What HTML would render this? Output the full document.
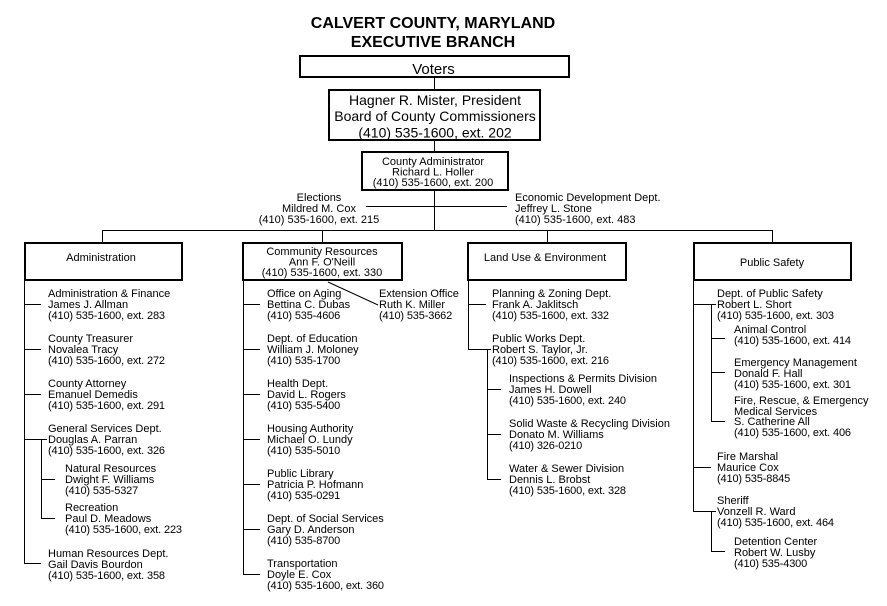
<!DOCTYPE html>
<html>
<head>
<meta charset="utf-8">
<style>
  html, body { margin: 0; padding: 0; background: #fff; }
  svg { display: block; }
  text { font-family: "Liberation Sans", Arial, sans-serif; fill: #000; }
  .s { font-size: 11px; }
  .m { text-anchor: middle; }
  .p { letter-spacing: -0.15px; }
</style>
</head>
<body>
<svg width="887" height="606" viewBox="0 0 887 606" xmlns="http://www.w3.org/2000/svg">
  <rect x="0" y="0" width="887" height="606" fill="#fff"/>

  <!-- Title -->
  <text x="433" y="28" class="m" style="font-size:16px;font-weight:bold">CALVERT COUNTY, MARYLAND</text>
  <text x="433" y="47" class="m" style="font-size:16px;font-weight:bold">EXECUTIVE BRANCH</text>

  <!-- Boxes -->
  <g fill="none" stroke="#000" stroke-width="2" shape-rendering="crispEdges">
    <rect x="300" y="56" width="269" height="21"/>
    <rect x="329" y="90" width="211" height="50"/>
    <rect x="362" y="152" width="146" height="38"/>
    <rect x="25" y="243" width="157" height="37"/>
    <rect x="243" y="243" width="159" height="37"/>
    <rect x="468" y="243" width="158" height="37"/>
    <rect x="694" y="243" width="157" height="37"/>
  </g>

  <!-- Connectors -->
  <g fill="none" stroke="#000" stroke-width="1" shape-rendering="crispEdges">
    <path d="M434.5 78 V89 M434.5 141 V151 M434.5 191 V230"/>
    <path d="M366 206.5 H507"/>
    <path d="M102 230.5 H773"/>
    <path d="M102.5 230 V242 M322.5 230 V242 M547.5 230 V242 M772.5 230 V242"/>

    <!-- Administration column -->
    <path d="M24.5 281 V564"/>
    <path d="M24 304.5 H41 M24 349.5 H41 M24 394.5 H41 M24 439.5 H47 M24 563.5 H41"/>
    <path d="M41.5 439 V519"/>
    <path d="M41 479.5 H55 M41 518.5 H55"/>

    <!-- Community column -->
    <path d="M243.5 281 V575"/>
    <path d="M243 304.5 H260 M243 349.5 H260 M243 394.5 H260 M243 439.5 H260 M243 484.5 H260 M243 529.5 H260 M243 574.5 H260"/>

    <!-- Land Use column -->
    <path d="M468.5 281 V350"/>
    <path d="M468 304.5 H486 M468 349.5 H491"/>
    <path d="M487.5 349 V480"/>
    <path d="M487 389.5 H501 M487 434.5 H501 M487 479.5 H501"/>

    <!-- Public Safety column -->
    <path d="M693.5 281 V512"/>
    <path d="M693 304.5 H716 M693 467.5 H711 M693 511.5 H716"/>
    <path d="M711.5 304 V422"/>
    <path d="M711 338.5 H725 M711 372.5 H725 M711 421.5 H725"/>
    <path d="M711.5 511 V552"/>
    <path d="M711 551.5 H725"/>
  </g>
  <path d="M328 282 L378 305" stroke="#000" stroke-width="1" fill="none"/>

  <!-- Top box texts -->
  <text x="433.5" y="74" class="m" style="font-size:15px">Voters</text>
  <text x="435" y="105" class="m" style="font-size:14px">Hagner R. Mister, President</text>
  <text x="435" y="121" class="m" style="font-size:14px">Board of County Commissioners</text>
  <text x="435" y="137.5" class="m" style="font-size:14px">(410) 535-1600, ext. 202</text>

  <text x="433" y="165" class="s m">County Administrator</text>
  <text x="433" y="175.5" class="s m">Richard L. Holler</text>
  <text x="433" y="186" class="s m">(410) 535-1600, ext. 200</text>

  <text x="319" y="201" class="s m">Elections</text>
  <text x="319" y="212" class="s m">Mildred M. Cox</text>
  <text x="319" y="223" class="s m">(410) 535-1600, ext. 215</text>

  <text x="515" y="201" class="s">Economic Development Dept.</text>
  <text x="515" y="212" class="s">Jeffrey L. Stone</text>
  <text x="515" y="223" class="s">(410) 535-1600, ext. 483</text>

  <!-- Column headers -->
  <text x="101" y="261" class="s m">Administration</text>
  <text x="322" y="255" class="s m">Community Resources</text>
  <text x="322" y="265.5" class="s m">Ann F. O'Neill</text>
  <text x="322" y="276" class="s m">(410) 535-1600, ext. 330</text>
  <text x="545" y="261" class="s m">Land Use &amp; Environment</text>
  <text x="772" y="266" class="s m">Public Safety</text>

  <!-- Administration items -->
  <text x="48" y="297" class="s">Administration &amp; Finance</text>
  <text x="48" y="308" class="s">James J. Allman</text>
  <text x="48" y="319" class="s p">(410) 535-1600, ext. 283</text>

  <text x="48" y="342" class="s">County Treasurer</text>
  <text x="48" y="353" class="s">Novalea Tracy</text>
  <text x="48" y="364" class="s p">(410) 535-1600, ext. 272</text>

  <text x="48" y="387" class="s">County Attorney</text>
  <text x="48" y="398" class="s">Emanuel Demedis</text>
  <text x="48" y="409" class="s p">(410) 535-1600, ext. 291</text>

  <text x="48" y="432" class="s">General Services Dept.</text>
  <text x="48" y="443" class="s">Douglas A. Parran</text>
  <text x="48" y="454" class="s p">(410) 535-1600, ext. 326</text>

  <text x="65" y="472" class="s">Natural Resources</text>
  <text x="65" y="483" class="s">Dwight F. Williams</text>
  <text x="65" y="494" class="s p">(410) 535-5327</text>

  <text x="65" y="511" class="s">Recreation</text>
  <text x="65" y="522" class="s">Paul D. Meadows</text>
  <text x="65" y="533" class="s p">(410) 535-1600, ext. 223</text>

  <text x="48" y="557" class="s">Human Resources Dept.</text>
  <text x="48" y="568" class="s">Gail Davis Bourdon</text>
  <text x="48" y="579" class="s p">(410) 535-1600, ext. 358</text>

  <!-- Community items -->
  <text x="267" y="297" class="s">Office on Aging</text>
  <text x="267" y="308" class="s">Bettina C. Dubas</text>
  <text x="267" y="319" class="s p">(410) 535-4606</text>

  <text x="379" y="297" class="s">Extension Office</text>
  <text x="379" y="308" class="s">Ruth K. Miller</text>
  <text x="379" y="319" class="s p">(410) 535-3662</text>

  <text x="267" y="342" class="s">Dept. of Education</text>
  <text x="267" y="353" class="s">William J. Moloney</text>
  <text x="267" y="364" class="s p">(410) 535-1700</text>

  <text x="267" y="387" class="s">Health Dept.</text>
  <text x="267" y="398" class="s">David L. Rogers</text>
  <text x="267" y="409" class="s p">(410) 535-5400</text>

  <text x="267" y="432" class="s">Housing Authority</text>
  <text x="267" y="443" class="s">Michael O. Lundy</text>
  <text x="267" y="454" class="s p">(410) 535-5010</text>

  <text x="267" y="477" class="s">Public Library</text>
  <text x="267" y="488" class="s">Patricia P. Hofmann</text>
  <text x="267" y="499" class="s p">(410) 535-0291</text>

  <text x="267" y="522" class="s">Dept. of Social Services</text>
  <text x="267" y="533" class="s">Gary D. Anderson</text>
  <text x="267" y="544" class="s p">(410) 535-8700</text>

  <text x="267" y="567" class="s">Transportation</text>
  <text x="267" y="578" class="s">Doyle E. Cox</text>
  <text x="267" y="589" class="s p">(410) 535-1600, ext. 360</text>

  <!-- Land Use items -->
  <text x="492" y="297" class="s">Planning &amp; Zoning Dept.</text>
  <text x="492" y="308" class="s">Frank A. Jaklitsch</text>
  <text x="492" y="319" class="s p">(410) 535-1600, ext. 332</text>

  <text x="492" y="342" class="s">Public Works Dept.</text>
  <text x="492" y="353" class="s">Robert S. Taylor, Jr.</text>
  <text x="492" y="364" class="s p">(410) 535-1600, ext. 216</text>

  <text x="509" y="382" class="s">Inspections &amp; Permits Division</text>
  <text x="509" y="393" class="s">James H. Dowell</text>
  <text x="509" y="404" class="s p">(410) 535-1600, ext. 240</text>

  <text x="509" y="427" class="s">Solid Waste &amp; Recycling Division</text>
  <text x="509" y="438" class="s">Donato M. Williams</text>
  <text x="509" y="449" class="s p">(410) 326-0210</text>

  <text x="509" y="472" class="s">Water &amp; Sewer Division</text>
  <text x="509" y="483" class="s">Dennis L. Brobst</text>
  <text x="509" y="494" class="s p">(410) 535-1600, ext. 328</text>

  <!-- Public Safety items -->
  <text x="717" y="297" class="s">Dept. of Public Safety</text>
  <text x="717" y="308" class="s">Robert L. Short</text>
  <text x="717" y="319" class="s p">(410) 535-1600, ext. 303</text>

  <text x="734" y="333" class="s">Animal Control</text>
  <text x="734" y="344" class="s p">(410) 535-1600, ext. 414</text>

  <text x="734" y="366" class="s">Emergency Management</text>
  <text x="734" y="377" class="s">Donald F. Hall</text>
  <text x="734" y="388" class="s p">(410) 535-1600, ext. 301</text>

  <text x="734" y="404" class="s">Fire, Rescue, &amp; Emergency</text>
  <text x="734" y="415" class="s">Medical Services</text>
  <text x="734" y="425" class="s">S. Catherine All</text>
  <text x="734" y="436" class="s p">(410) 535-1600, ext. 406</text>

  <text x="717" y="460" class="s">Fire Marshal</text>
  <text x="717" y="471" class="s">Maurice Cox</text>
  <text x="717" y="482" class="s p">(410) 535-8845</text>

  <text x="717" y="504" class="s">Sheriff</text>
  <text x="717" y="515" class="s">Vonzell R. Ward</text>
  <text x="717" y="526" class="s p">(410) 535-1600, ext. 464</text>

  <text x="734" y="545" class="s">Detention Center</text>
  <text x="734" y="556" class="s">Robert W. Lusby</text>
  <text x="734" y="567" class="s p">(410) 535-4300</text>
</svg>
</body>
</html>
